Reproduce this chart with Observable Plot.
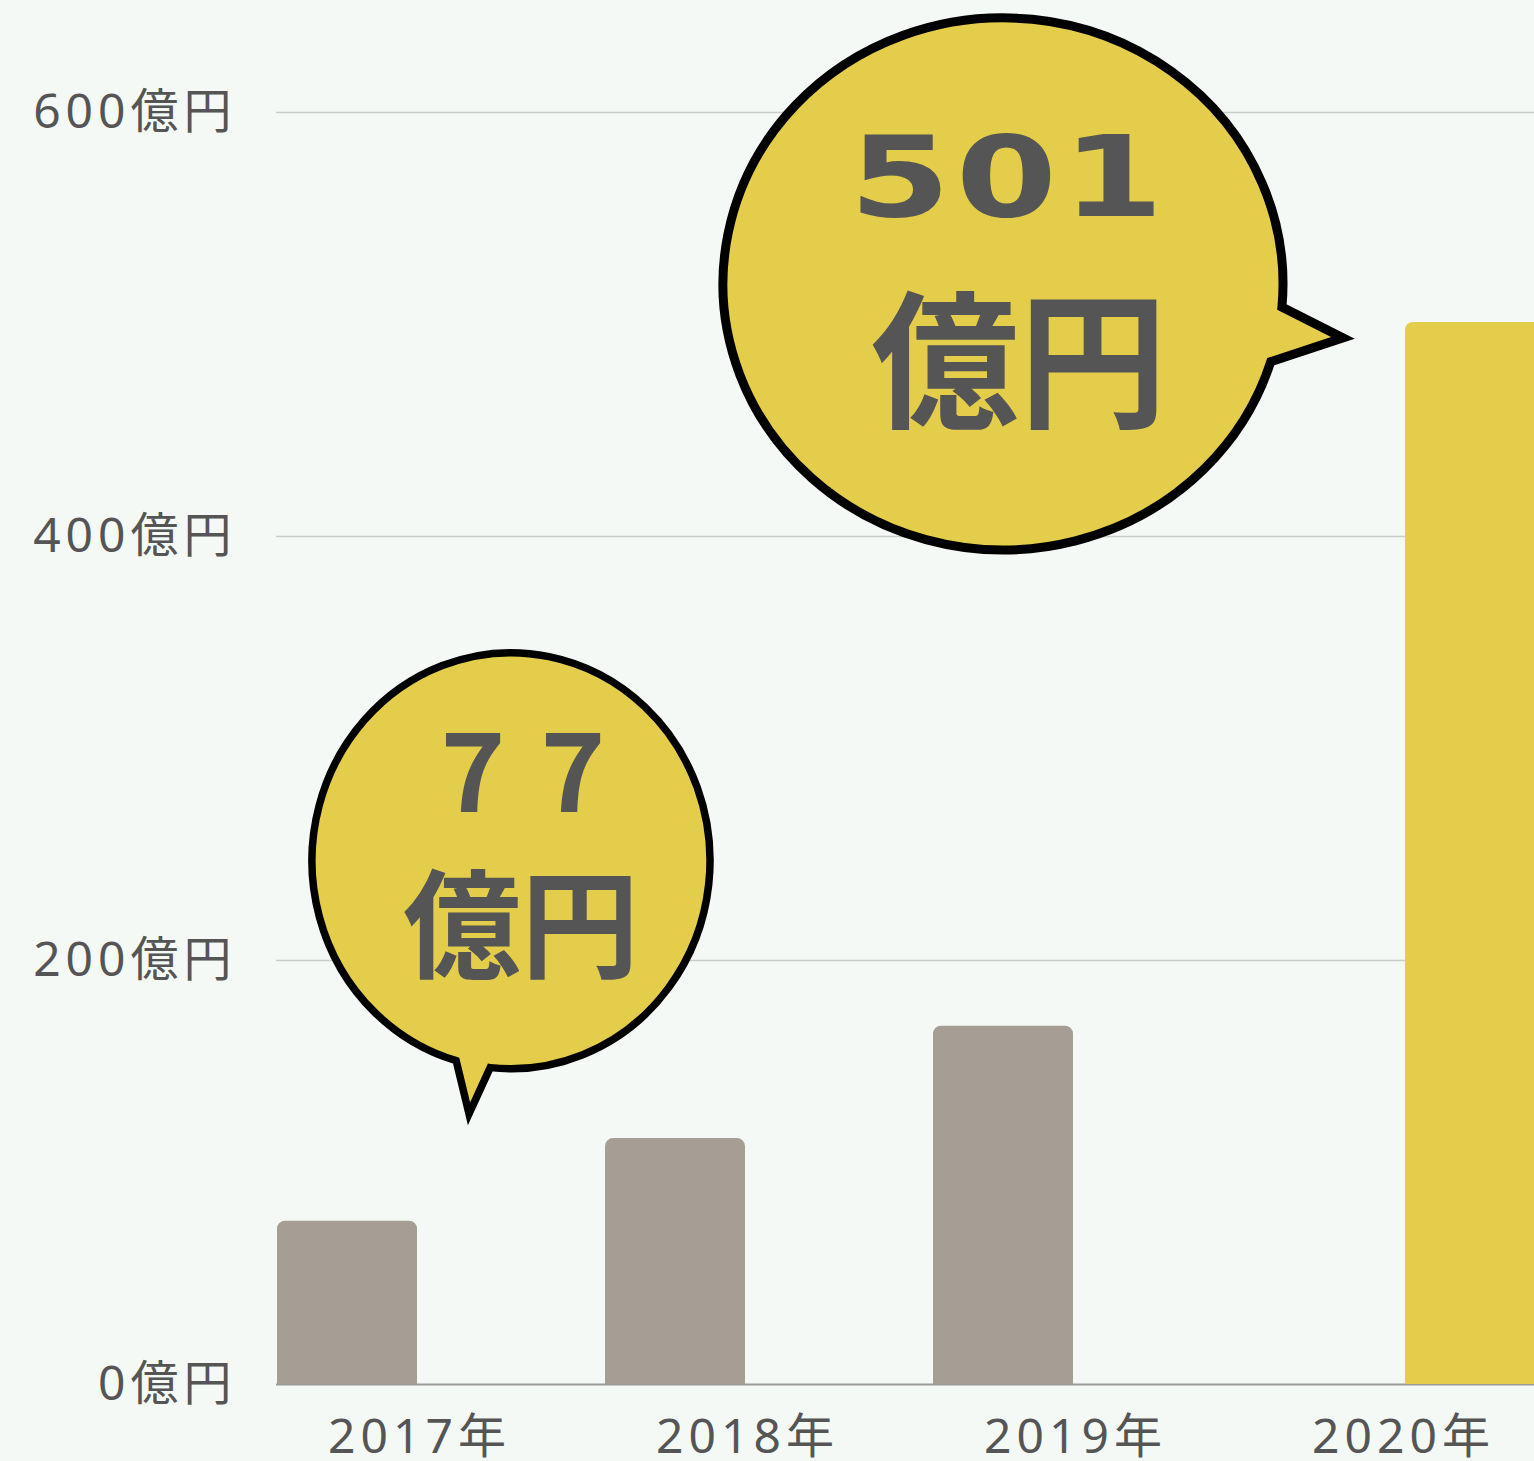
<!DOCTYPE html>
<html><head><meta charset="utf-8">
<script src="https://cdn.jsdelivr.net/npm/d3@7"></script>
<script src="https://cdn.jsdelivr.net/npm/@observablehq/plot@0.6"></script>
<style>html,body{margin:0;padding:0;background:#f4f9f5;overflow:hidden}</style>
</head><body><div id="chart"></div>
<script>
// ---- data ----
const years = ["2017年", "2018年", "2019年", "2020年"];
const values = [77, 116, 169, 501];
const highlighted = [false, false, false, true];
const yTicks = [0, 200, 400, 600];
const unit = "億円";
const calloutYears = ["2017年", "2020年"];

const data = years.map((year, i) => ({year, value: values[i], highlight: highlighted[i]}));

// ---- styles ----
const GRAY = "#a69e94", YELLOW = "#e3cd4b", TEXT = "#555555";
const calloutStyle = {
  "2017年": {cx: 92, cy: -360, rx: 199, ry: 208, t0: 96, t1: 106, tipX: 50, tipY: -107, sw: 7.5,
    num: {dx: 104, dy: -448, size: 110, family: "'Noto Sans CJK JP', sans-serif", ls: 35, sx: 1},
    unit: {dx: 102, dy: -294, size: 118, ls: 0}},
  "2020年": {cx: -400, cy: -38, rx: 280, ry: 266, t0: 5, t1: 17, tipX: -60, tipY: 16, sw: 9,
    num: {dx: -396, dy: -146, size: 112, family: "'DejaVu Sans', sans-serif", ls: 4, sx: 1.3},
    unit: {dx: -384, dy: 41, size: 148, ls: 0}}
};

function callouts(index, scales) {
  const {x, y} = scales;
  const bw = typeof x.bandwidth === "function" ? x.bandwidth() : 0;
  const g = d3.create("svg:g");
  for (const d of data.filter(d => calloutYears.includes(d.year))) {
    const s = calloutStyle[d.year];
    const ax = x(d.year) + bw / 2, ay = y(d.value);
    const cx = ax + s.cx, cy = ay + s.cy;
    const P = t => [cx + s.rx * Math.cos(t * Math.PI / 180), cy + s.ry * Math.sin(t * Math.PI / 180)];
    const [x0, y0] = P(s.t1), [x1, y1] = P(s.t0);
    g.append("path")
      .attr("d", `M${x0},${y0}A${s.rx},${s.ry} 0 1 1 ${x1},${y1}L${ax + s.tipX},${ay + s.tipY}Z`)
      .attr("fill", YELLOW).attr("stroke", "#000").attr("stroke-width", s.sw)
      .attr("stroke-linejoin", "miter");
    g.append("text")
      .attr("transform", `translate(${ax + s.num.dx + s.num.ls / 2},${ay + s.num.dy}) scale(${s.num.sx},1)`)
      .attr("text-anchor", "middle").attr("dy", "0.36em")
      .attr("font-family", s.num.family).attr("font-weight", "bold")
      .attr("font-size", s.num.size).attr("letter-spacing", s.num.ls + "px")
      .attr("fill", TEXT).text(String(d.value));
    g.append("text")
      .attr("transform", `translate(${ax + s.unit.dx + s.unit.ls / 2},${ay + s.unit.dy})`)
      .attr("text-anchor", "middle").attr("dy", "0.36em")
      .attr("font-family", "'Noto Sans CJK JP', sans-serif").attr("font-weight", "bold")
      .attr("font-size", s.unit.size).attr("letter-spacing", s.unit.ls + "px")
      .attr("fill", TEXT).text(unit);
  }
  return g.node();
}

const chart = Plot.plot({
  width: 1534,
  height: 1461,
  marginLeft: 276,
  marginRight: 0,
  marginTop: 112,
  marginBottom: 77,
  style: {
    background: "#f4f9f5",
    color: TEXT,
    fontFamily: "'Noto Sans', 'Noto Sans CJK JP', sans-serif",
    fontSize: "48px",
    letterSpacing: "5px",
    overflow: "hidden"
  },
  x: {type: "band", domain: years, range: [254, 1568], padding: 0, tickSize: 0, tickPadding: 34, label: null},
  y: {domain: [0, 600], ticks: yTicks, tickFormat: d => d + unit, tickSize: 0, tickPadding: 40, label: null},
  marks: [
    Plot.ruleY(yTicks.filter(d => d > 0), {stroke: "#c8cec9", strokeWidth: 1.5}),
    Plot.ruleY([0], {stroke: "#9a9a9a", strokeWidth: 2}),
    Plot.barY(data.filter(d => !d.highlight), {x: "year", y: "value", fill: GRAY, insetLeft: 22, insetRight: 166, rx: 8}),
    Plot.barY(data.filter(d => !d.highlight), {x: "year", y: d => d.value / 2, fill: GRAY, insetLeft: 22, insetRight: 166}),
    Plot.barY(data.filter(d => d.highlight), {x: "year", y: "value", fill: YELLOW, insetLeft: 166, insetRight: 22, rx: 8}),
    Plot.barY(data.filter(d => d.highlight), {x: "year", y: d => d.value / 2, fill: YELLOW, insetLeft: 166, insetRight: 22}),
    callouts
  ]
});
document.getElementById("chart").appendChild(chart);
</script>
</body></html>
